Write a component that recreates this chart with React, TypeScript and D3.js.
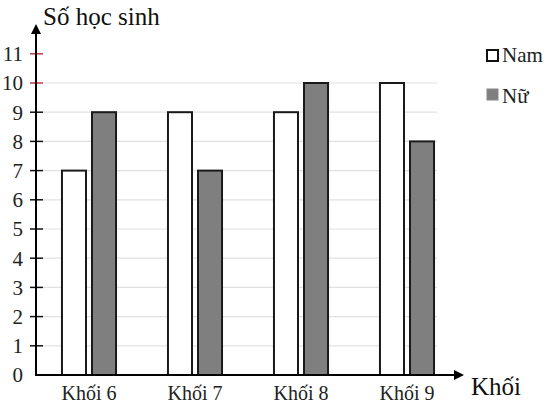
import React from "react";
import * as d3 from "d3";

const categories = ["Khối 6", "Khối 7", "Khối 8", "Khối 9"];
const seriesNames = ["Nam", "Nữ"];
const namValues = [7, 9, 9, 10];
const nuValues = [9, 7, 10, 8];
const yTicks = [0, 1, 2, 3, 4, 5, 6, 7, 8, 9, 10, 11];
const gridValues = [1, 2, 3, 4, 5, 6, 7, 8, 9, 10];
const yTitle = "Số học sinh";
const xTitle = "Khối";

const W = 553;
const H = 412;
const FONT = '"Liberation Serif"';

export default function App() {
  const axisX = 36;
  const baseY = 375;
  const y = d3.scaleLinear().domain([0, 11]).range([baseY, 53.8]);
  const x0 = d3
    .scaleBand()
    .domain(categories)
    .range([36, 460])
    .paddingInner(0.49)
    .paddingOuter(0.245);
  const x1 = d3
    .scaleBand()
    .domain(seriesNames)
    .range([0, x0.bandwidth()])
    .paddingInner(0.2);
  const series = [namValues, nuValues];
  const fills = ["#ffffff", "#7f7f7f"];

  return (
    <svg
      width={W}
      height={H}
      style={{ position: "absolute", left: 0, top: 0, background: "#fff", fontFamily: FONT }}
    >
      {gridValues.map((v) => (
        <line
          key={"g" + v}
          x1={axisX + 7}
          x2={437}
          y1={y(v)}
          y2={y(v)}
          stroke="#e3e0e3"
          strokeWidth={1.2}
        />
      ))}
      {categories.map((c, i) =>
        seriesNames.map((s, j) => {
          const v = series[j][i];
          const bx = (x0(c) as number) + (x1(s) as number);
          return (
            <rect
              key={c + s}
              x={bx}
              y={y(v)}
              width={x1.bandwidth()}
              height={baseY - y(v)}
              fill={fills[j]}
              stroke="#1a1a1a"
              strokeWidth={2}
            />
          );
        })
      )}
      {yTicks.map((v) => (
        <g key={"t" + v}>
          {v > 0 && (
            <line
              x1={30}
              x2={43}
              y1={y(v)}
              y2={y(v)}
              stroke={v >= 10 ? "#c0394a" : "#111"}
              strokeWidth={1.5}
            />
          )}
          <text
            x={23}
            y={y(v)}
            dy="0.35em"
            textAnchor="end"
            fontSize={21}
            fill="#222"
            style={{ fontFamily: FONT }}
          >
            {v}
          </text>
        </g>
      ))}
      <line x1={axisX} x2={axisX} y1={baseY + 1} y2={32} stroke="#000" strokeWidth={2} />
      <path d={`M${axisX - 5},${34} L${axisX},${24} L${axisX + 5},${34} Z`} fill="#000" />
      <line x1={axisX - 1} x2={456} y1={baseY} y2={baseY} stroke="#000" strokeWidth={2} />
      <path d={`M${454},${baseY - 5} L${464},${baseY} L${454},${baseY + 5} Z`} fill="#000" />
      {categories.map((c) => (
        <text
          key={"l" + c}
          x={(x0(c) as number) + x0.bandwidth() / 2}
          y={400}
          textAnchor="middle"
          fontSize={20}
          fill="#222"
          style={{ fontFamily: FONT }}
        >
          {c}
        </text>
      ))}
      <text x={471} y={395} fontSize={25} fill="#111" style={{ fontFamily: FONT }}>
        {xTitle}
      </text>
      <text x={43} y={25} fontSize={25} fill="#111" style={{ fontFamily: FONT }}>
        {yTitle}
      </text>
      <rect x={487} y={50} width={11} height={11} fill="#fff" stroke="#111" strokeWidth={2} />
      <text x={502} y={62} fontSize={21} fill="#222" style={{ fontFamily: FONT }}>
        {seriesNames[0]}
      </text>
      <rect x={487} y={89} width={11} height={11} fill="#7f7f7f" stroke="#888" strokeWidth={1} />
      <text x={502} y={103} fontSize={21} fill="#222" style={{ fontFamily: FONT }}>
        {seriesNames[1]}
      </text>
    </svg>
  );
}
